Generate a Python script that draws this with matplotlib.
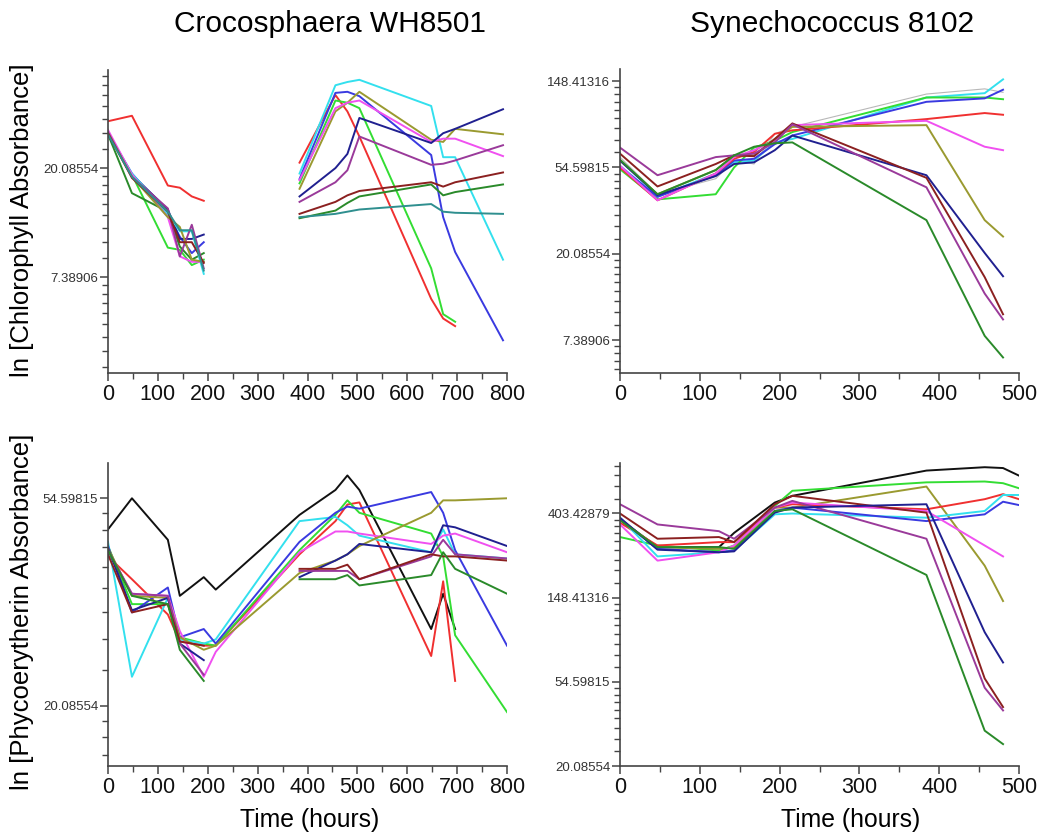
import numpy as np
import matplotlib
matplotlib.use("Agg")
import matplotlib.pyplot as plt

nan = np.nan

# ---------------- DATA (natural-log absorbance values) ----------------
# Top-left: Crocosphaera WH8501, chlorophyll
TL_T_EARLY = [0, 48, 120, 144, 168, 192]
TL_EARLY = {
    "red":     [3.43, 3.48, 2.84, 2.82, 2.74, 2.70],
    "lime":    [3.32, 2.94, 2.27, 2.25, 2.11, 2.16],
    "dkgreen": [3.31, 2.77, 2.60, 2.28, 2.16, 2.22],
    "blue":    [3.32, 2.95, 2.58, 2.37, 2.22, 2.32],
    "navy":    [3.31, 2.94, 2.62, 2.35, 2.35, 2.39],
    "cyan":    [3.32, 2.95, 2.58, 2.42, 2.42, 2.03],
    "magenta": [3.35, 2.94, 2.55, 2.19, 2.14, 2.14],
    "purple":  [3.33, 2.92, 2.63, 2.19, 2.48, 2.08],
    "olive":   [3.32, 2.92, 2.55, 2.46, 2.16, 2.14],
    "maroon":  [3.32, 2.91, 2.60, 2.32, 2.32, 2.13],
    "teal":    [3.31, 2.92, 2.60, 2.43, 2.43, 2.06],
}
TL_T_LATE = [384, 456, 480, 504, 648, 672, 696, 792]
TL_LATE = {
    "red":     [3.05, 3.67, 3.52, 3.29, 1.80, 1.62, 1.55, nan],
    "lime":    [2.86, 3.62, 3.60, 3.55, 2.08, 1.66, 1.59, nan],
    "cyan":    [2.95, 3.76, 3.79, 3.81, 3.57, 3.10, 3.10, 2.16],
    "blue":    [2.90, 3.69, 3.70, 3.66, 3.12, 2.55, 2.23, 1.42],
    "olive":   [2.81, 3.52, 3.60, 3.70, 3.26, 3.24, 3.36, 3.31],
    "magenta": [2.89, 3.55, 3.60, 3.62, 3.24, 3.27, 3.27, 3.11],
    "navy":    [2.74, 3.00, 3.13, 3.46, 3.23, 3.32, 3.36, 3.54],
    "purple":  [2.69, 2.87, 2.98, 3.29, 3.03, 3.04, 3.07, 3.21],
    "maroon":  [2.58, 2.69, 2.75, 2.79, 2.87, 2.83, 2.87, 2.96],
    "dkgreen": [2.54, 2.61, 2.68, 2.74, 2.85, 2.75, 2.78, 2.85],
    "teal":    [2.55, 2.58, 2.60, 2.62, 2.67, 2.60, 2.59, 2.58],
}

# Top-right: Synechococcus 8102, chlorophyll
TR_T = [0, 47, 120, 143, 168, 194, 216, 384, 457, 480]
TR = {
    "gray":    [4.12, 3.69, 3.87, 4.08, 4.04, 4.39, 4.47, 4.85, 4.91, 4.87],
    "cyan":    [4.02, 3.66, 3.93, 4.06, 4.08, 4.29, 4.33, 4.81, 4.86, 5.02],
    "lime":    [3.98, 3.63, 3.69, 4.00, 4.23, 4.31, 4.41, 4.81, 4.81, 4.79],
    "blue":    [4.01, 3.66, 3.91, 4.08, 4.10, 4.27, 4.37, 4.76, 4.80, 4.90],
    "red":     [4.00, 3.62, 3.93, 4.10, 4.18, 4.39, 4.43, 4.56, 4.63, 4.61],
    "magenta": [4.02, 3.62, 3.93, 4.12, 4.20, 4.31, 4.49, 4.54, 4.24, 4.20],
    "olive":   [4.08, 3.69, 3.97, 4.14, 4.14, 4.33, 4.47, 4.49, 3.39, 3.20],
    "navy":    [4.08, 3.68, 3.90, 4.04, 4.06, 4.20, 4.37, 3.91, 3.01, 2.74],
    "maroon":  [4.16, 3.78, 4.04, 4.14, 4.13, 4.33, 4.51, 3.88, 2.73, 2.30],
    "purple":  [4.23, 3.91, 4.12, 4.14, 4.16, 4.29, 4.50, 3.77, 2.54, 2.24],
    "dkgreen": [4.09, 3.69, 3.97, 4.14, 4.24, 4.28, 4.29, 3.39, 2.05, 1.80],
}

# Bottom-left: Crocosphaera WH8501, phycoerythrin
BL_T = [0, 48, 120, 144, 192, 216, 384, 456, 480, 504, 648, 672, 696, 800]
BL = {
    "black":   [3.85, 4.00, 3.80, 3.53, 3.62, 3.56, 3.92, 4.04, 4.11, 4.04, 3.37, 3.54, 3.37, nan],
    "red":     [3.72, 3.61, 3.44, 3.31, 3.29, 3.29, 3.73, 3.89, 3.97, 3.98, 3.24, 3.60, 3.12, nan],
    "lime":    [3.77, 3.49, 3.49, 3.33, 3.30, 3.29, 3.75, 3.92, 3.99, 3.93, 3.83, 3.72, 3.34, 2.97],
    "cyan":    [3.79, 3.14, 3.52, 3.32, 3.30, 3.32, 3.89, 3.91, 3.87, 3.82, 3.74, 3.85, 3.73, 3.71],
    "blue":    [3.77, 3.45, 3.57, 3.33, 3.37, 3.30, 3.79, 3.93, 3.96, 3.95, 4.03, 3.93, 3.75, 3.29],
    "magenta": [3.75, 3.54, 3.53, 3.36, 3.14, 3.26, 3.74, 3.84, 3.84, 3.83, 3.78, 3.82, 3.83, 3.74],
    "olive":   [3.76, 3.53, 3.52, 3.33, 3.27, 3.29, 3.64, 3.70, 3.73, 3.77, 3.93, 3.99, 3.99, 4.00],
    "navy":    [3.76, 3.46, 3.52, 3.30, 3.22, nan, 3.62, 3.70, 3.73, 3.78, 3.74, 3.87, 3.86, 3.77],
    "purple":  [3.75, 3.54, 3.53, 3.30, 3.15, nan, 3.65, 3.65, 3.65, 3.61, 3.72, 3.80, 3.73, 3.71],
    "maroon":  [3.73, 3.45, 3.49, 3.31, 3.29, nan, 3.66, 3.66, 3.68, 3.61, 3.73, 3.72, 3.72, 3.70],
    "dkgreen": [3.75, 3.53, 3.49, 3.27, 3.12, nan, 3.61, 3.61, 3.63, 3.58, 3.63, 3.74, 3.66, 3.54],
}

# Bottom-right: Synechococcus 8102, phycoerythrin
BR_T = [0, 47, 124, 143, 194, 216, 384, 457, 480, 500]
BR = {
    "black":   [5.93, 5.60, 5.60, 5.77, 6.13, 6.21, 6.51, 6.55, 6.54, 6.45],
    "lime":    [5.72, 5.62, 5.56, 5.62, 6.09, 6.27, 6.37, 6.38, 6.36, 6.30],
    "olive":   [5.93, 5.60, 5.58, 5.60, 6.07, 6.07, 6.32, 5.38, 4.96, nan],
    "red":     [5.89, 5.62, 5.66, 5.66, 6.07, 6.11, 6.05, 6.17, 6.23, 6.17],
    "cyan":    [5.95, 5.49, 5.54, 5.56, 5.99, 6.00, 5.95, 6.03, 6.22, 6.22],
    "blue":    [5.93, 5.58, 5.54, 5.56, 6.03, 6.07, 5.91, 5.99, 6.14, 6.10],
    "magenta": [5.87, 5.44, 5.54, 5.62, 6.07, 6.13, 6.03, 5.62, 5.49, nan],
    "purple":  [6.11, 5.87, 5.79, 5.70, 6.07, 6.15, 5.70, 3.93, 3.66, nan],
    "maroon":  [6.00, 5.70, 5.72, 5.66, 6.11, 6.21, 6.01, 4.04, 3.70, nan],
    "navy":    [5.95, 5.57, 5.54, 5.55, 6.01, 6.07, 6.11, 4.59, 4.23, nan],
    "dkgreen": [5.92, 5.60, 5.60, 5.58, 6.03, 6.05, 5.27, 3.42, 3.26, nan],
}

COLORS = {
    "red": "#f03030", "lime": "#33dd33", "dkgreen": "#2a8a2a", "blue": "#3a3ae0",
    "navy": "#202090", "cyan": "#33e0ee", "magenta": "#f050f0", "purple": "#9a3a9a",
    "olive": "#9a9a30", "maroon": "#8b2020", "teal": "#2f8f8f", "black": "#111111",
    "gray": "#b8b8b8",
}

TITLES = ["Crocosphaera WH8501", "Synechococcus 8102"]
YLABELS = ["ln [Chlorophyll Absorbance]", "ln [Phycoerytherin Absorbance]"]
XLABEL = "Time (hours)"

# ---------------- FIGURE ----------------
plt.rcParams["font.family"] = ["Liberation Sans", "DejaVu Sans"]
W, H = 1041, 838
fig = plt.figure(figsize=(W / 100, H / 100), dpi=100)


def px_axes(x0, x1, y0, y1):
    return fig.add_axes([x0 / W, 1 - y1 / H, (x1 - x0) / W, (y1 - y0) / H])


ax_tl = px_axes(108, 507, 70, 373)
ax_tr = px_axes(620, 1019, 69, 373)
ax_bl = px_axes(108, 507, 463, 766)
ax_br = px_axes(620, 1019, 463, 766)


def style(ax, xmax, ylo, yhi, majors):
    ax.set_xlim(0, xmax)
    ax.set_ylim(ylo, yhi)
    for s in ("top", "right"):
        ax.spines[s].set_visible(False)
    for s in ("left", "bottom"):
        ax.spines[s].set_color("#444444")
        ax.spines[s].set_linewidth(1.2)
    ax.set_xticks(np.arange(0, xmax + 1, 100))
    ax.set_xticks(np.arange(50, xmax, 100), minor=True)
    ax.set_yticks(majors)
    ax.set_yticklabels(["%.5f" % np.exp(n) for n in majors])
    minors = []
    for n in range(int(np.floor(ylo)) - 1, int(np.ceil(yhi)) + 1):
        a, b = np.exp(n), np.exp(n + 1)
        for k in range(1, 9):
            v = np.log(a + k * (b - a) / 9)
            if ylo <= v <= yhi:
                minors.append(v)
    ax.set_yticks(minors, minor=True)
    ax.tick_params(axis="x", which="major", length=6, width=1.1, color="#444444",
                   labelsize=15.5, labelcolor="#111111", pad=2)
    ax.tick_params(axis="x", which="minor", length=4, width=1.0, color="#444444")
    ax.tick_params(axis="y", which="major", length=6, width=1.1, color="#444444",
                   labelsize=9.5, labelcolor="#333333", pad=1)
    ax.tick_params(axis="y", which="minor", length=4, width=1.0, color="#444444")


def draw(ax, t, series):
    for name, vals in series.items():
        lw = 0.8 if name == "gray" else 1.4
        ax.plot(t, vals, color=COLORS[name], lw=lw, solid_joinstyle="round")


draw(ax_tl, TL_T_EARLY, TL_EARLY)
draw(ax_tl, TL_T_LATE, TL_LATE)
draw(ax_tr, TR_T, TR)
draw(ax_bl, BL_T, BL)
draw(ax_br, BR_T, BR)

style(ax_tl, 800, 1.12, 3.90, [2, 3])
style(ax_tr, 500, 1.62, 5.14, [2, 3, 4, 5])
style(ax_bl, 800, 2.71, 4.17, [3, 4])
style(ax_br, 500, 3.00, 6.60, [3, 4, 5, 6])

fig.text(330 / W, 1 - 24 / H, TITLES[0], ha="center", va="center", fontsize=21.5)
fig.text(832 / W, 1 - 24 / H, TITLES[1], ha="center", va="center", fontsize=21.5)
fig.text(22 / W, 1 - 220 / H, YLABELS[0], ha="center", va="center",
         rotation=90, fontsize=18.5)
fig.text(22 / W, 1 - 612 / H, YLABELS[1], ha="center", va="center",
         rotation=90, fontsize=18.5)
fig.text(310 / W, 1 - 820 / H, XLABEL, ha="center", va="center", fontsize=17.8)
fig.text(851 / W, 1 - 820 / H, XLABEL, ha="center", va="center", fontsize=17.8)

fig.savefig("out.png", dpi=100)
